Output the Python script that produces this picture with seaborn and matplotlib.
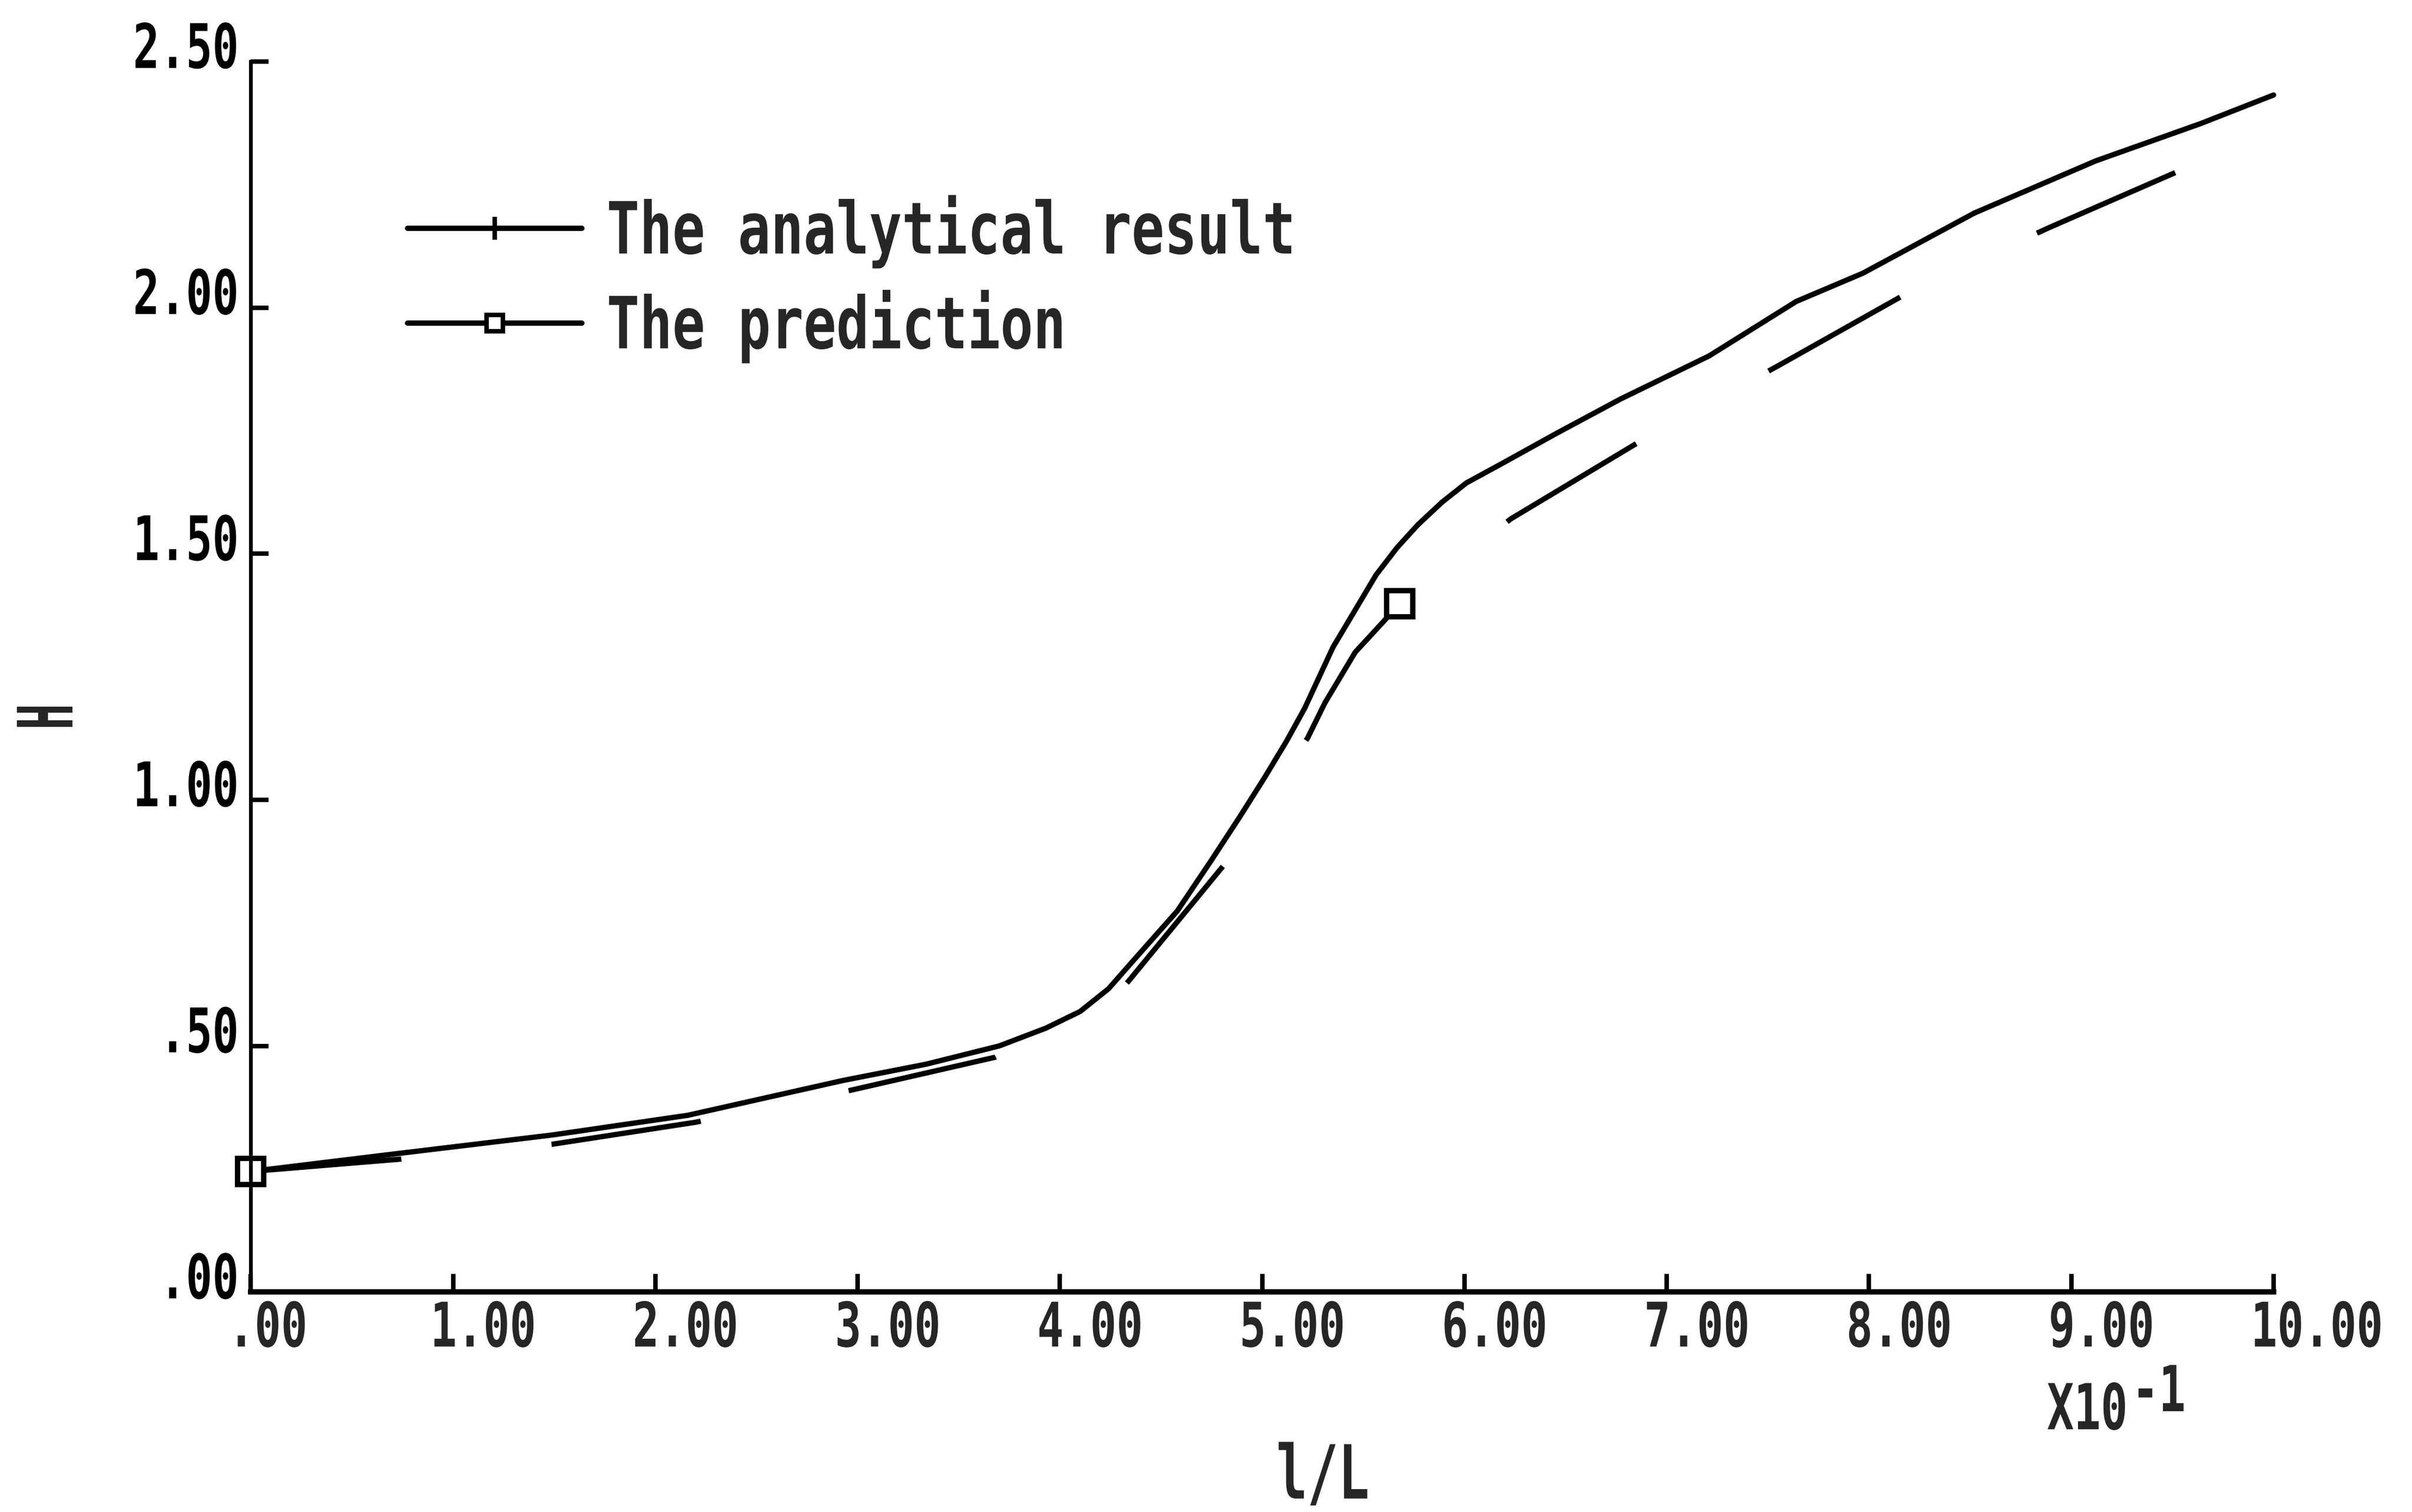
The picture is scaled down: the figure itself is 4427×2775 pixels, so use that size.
import numpy as np
import pandas as pd
import matplotlib
matplotlib.use("Agg")
import matplotlib.pyplot as plt
from matplotlib.lines import Line2D
from matplotlib.patheffects import AbstractPathEffect
from matplotlib.transforms import Affine2D, offset_copy
import seaborn as sns

# ---- data (x in units of 10^-1) ----
analytic_x = [0, 0.74, 1.49, 2.16, 2.93, 3.34, 3.70, 3.93, 4.10, 4.24, 4.36, 4.58,
              4.75, 4.89, 5.01, 5.12, 5.21, 5.35, 5.495, 5.563, 5.667, 5.77, 5.89,
              6.01, 6.18, 6.457, 6.77, 7.21, 7.64, 7.97, 8.52, 9.12, 9.64, 10.0]
analytic_y = [0.245, 0.282, 0.319, 0.359, 0.43, 0.463, 0.50, 0.536, 0.57, 0.616,
              0.672, 0.774, 0.878, 0.966, 1.044, 1.119, 1.186, 1.31, 1.41, 1.457,
              1.5125, 1.559, 1.605, 1.644, 1.682, 1.745, 1.814, 1.902, 2.0125, 2.07,
              2.192, 2.298, 2.374, 2.432]

pred_x = [0, 0.74, 1.487, 2.20, 2.94, 3.68, 4.0, 4.33, 4.81, 5.225, 5.31, 5.46, 5.68,
          6.23, 6.887, 7.547, 8.20, 8.89, 9.577, 10.0]
pred_y = [0.245, 0.27, 0.30, 0.345, 0.4075, 0.477, 0.54, 0.627, 0.867, 1.126, 1.197,
          1.30, 1.398, 1.571, 1.733, 1.881, 2.032, 2.1625, 2.2856, 2.37]
pred_marker_idx = [0, 12]

x_ticks = [0, 1, 2, 3, 4, 5, 6, 7, 8, 9, 10]
x_ticklabels = [".00", "1.00", "2.00", "3.00", "4.00", "5.00", "6.00", "7.00",
                "8.00", "9.00", "10.00"]
y_ticks = [0, 0.5, 1.0, 1.5, 2.0, 2.5]
y_ticklabels = [".00", ".50", "1.00", "1.50", "2.00", "2.50"]
series_labels = ["The analytical result", "The prediction"]


class StretchY(AbstractPathEffect):
    """Stretch glyphs vertically about their cap-height centre (plotter-like font)."""
    def __init__(self, sy, c=36.5):
        super().__init__()
        self.sy = sy
        self.c = c

    def draw_path(self, renderer, gc, tpath, affine, rgbFace=None):
        t = Affine2D().translate(0, -self.c).scale(1, self.sy).translate(0, self.c)
        renderer.draw_path(gc, tpath, t + affine, rgbFace)


sns.set_style("ticks")
plt.rcParams["font.family"] = ["DejaVu Sans Mono", "DejaVu Sans"]
plt.rcParams["font.weight"] = "bold"

fig = plt.figure(figsize=(22.135, 13.875), dpi=200)
ax = fig.add_axes([0.104, 0.1455, 0.8386, 0.8138])

LW = 3.5
df_a = pd.DataFrame({"x": analytic_x, "y": analytic_y})
df_p = pd.DataFrame({"x": pred_x, "y": pred_y})

sns.lineplot(data=df_a, x="x", y="y", ax=ax, color="black", linewidth=LW,
             sort=False, estimator=None)
sns.lineplot(data=df_p, x="x", y="y", ax=ax, color="black", linewidth=LW,
             sort=False, estimator=None, marker="s", markevery=pred_marker_idx,
             markersize=17, markerfacecolor="white", markeredgecolor="black",
             markeredgewidth=3.5)
pl = ax.lines[-1]
pl.set_dashes((28.5, 28.5))
pl.set_clip_on(False)
ax.lines[0].set_clip_on(False)

ax.set_xlim(0, 10)
ax.set_ylim(0, 2.5)
ax.set_xticks(x_ticks)
ax.set_xticklabels([])
ax.set_yticks(y_ticks)
ax.set_yticklabels(y_ticklabels)

TICK_FS = 29
STR = StretchY(1.4)
for lab in ax.get_yticklabels():
    lab.set_va("baseline")
    lab.set_fontweight("bold")
    lab.set_path_effects([STR])

ax.tick_params(axis="both", which="major", direction="in", length=12, width=3,
               labelsize=TICK_FS, colors="black", bottom=True, left=True,
               top=False, right=False)
ax.tick_params(axis="y", pad=8)

# x tick labels: plotter style, starting slightly left of each tick
xlab_tr = offset_copy(ax.get_xaxis_transform(), fig=fig, x=-15, y=-31.8,
                      units="points")
for xv, txt in zip(x_ticks, x_ticklabels):
    ax.text(xv, 0, txt, transform=xlab_tr, ha="left", va="baseline",
            fontsize=TICK_FS, fontweight="bold", path_effects=[STR], clip_on=False)

for s in ["top", "right"]:
    ax.spines[s].set_visible(False)
ax.spines["left"].set_linewidth(2.5)
ax.spines["bottom"].set_linewidth(3.5)
ax.spines["left"].set_color("black")
ax.spines["bottom"].set_color("black")
ax.set_xlabel("")
ax.set_ylabel("")

# axis titles
ax.text(0.530, -0.161, "l/L", transform=ax.transAxes, fontsize=34, ha="center",
        va="baseline", fontweight="bold", path_effects=[StretchY(1.45)])
ax.text(-0.0943, 0.4675, "H", transform=ax.transAxes, fontsize=28, rotation=90,
        rotation_mode="anchor", ha="center", va="baseline", fontweight="bold",
        path_effects=[StretchY(1.8)])
ax.text(0.888, -0.106, "X10", transform=ax.transAxes, fontsize=29.5, ha="left",
        va="baseline", fontweight="bold", path_effects=[StretchY(1.42)])
ax.text(0.930, -0.0913, "-1", transform=ax.transAxes, fontsize=29.5, ha="left",
        va="baseline", fontweight="bold", path_effects=[StretchY(1.42)])

handles = [
    Line2D([0], [0], color="black", linewidth=LW, marker="|", markersize=15,
           markeredgewidth=3),
    Line2D([0], [0], color="black", linewidth=LW, marker="s", markersize=11,
           markerfacecolor="white", markeredgecolor="black", markeredgewidth=3),
]
leg = ax.legend(handles, series_labels, loc="upper left",
                bbox_to_anchor=(0.0776, 0.885), frameon=False,
                prop={"size": 36, "weight": "bold"}, handlelength=3.2,
                handletextpad=0.45, labelspacing=0.72, borderpad=0,
                borderaxespad=0)
for t in leg.get_texts():
    t.set_path_effects([StretchY(1.32)])

fig.savefig("out.png", dpi=200, facecolor="white")
